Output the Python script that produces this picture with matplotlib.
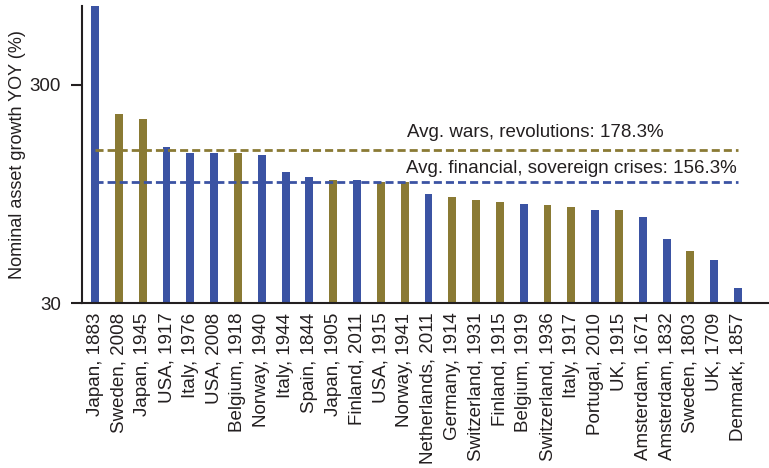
import numpy as np
import matplotlib
matplotlib.use("Agg")
from matplotlib import pyplot as plt
from matplotlib.ticker import FixedLocator, FixedFormatter, NullLocator

plt.rcParams['font.family'] = ['Liberation Sans', 'DejaVu Sans']

# episodes, sorted by growth
labels = ["Japan, 1883", "Sweden, 2008", "Japan, 1945", "USA, 1917", "Italy, 1976",
          "USA, 2008", "Belgium, 1918", "Norway, 1940", "Italy, 1944", "Spain, 1844",
          "Japan, 1905", "Finland, 2011", "USA, 1915", "Norway, 1941", "Netherlands, 2011",
          "Germany, 1914", "Switzerland, 1931", "Finland, 1915", "Belgium, 1919",
          "Switzerland, 1936", "Italy, 1917", "Portugal, 2010", "UK, 1915",
          "Amsterdam, 1671", "Amsterdam, 1832", "Sweden, 1803", "UK, 1709", "Denmark, 1857"]
growth = [800, 221, 210, 156, 146, 146, 146, 143, 120, 113, 110, 110, 108, 108, 95,
          92, 89, 87, 85, 84, 83, 80, 80, 74, 59, 52, 47, 35]
# 'w' = war / revolution, 'f' = financial / sovereign crisis
kind = ["f", "w", "w", "f", "f", "f", "w", "f", "f", "f", "w", "f", "w", "w", "f",
        "w", "w", "w", "f", "w", "w", "f", "w", "f", "f", "w", "f", "f"]

avg_wars_line = 151
avg_fin_line = 108
avg_wars_text = "Avg. wars, revolutions: 178.3%"
avg_fin_text = "Avg. financial, sovereign crises: 156.3%"

blue = "#3b53a3"
olive = "#8a7a34"
txt = "#231f20"
fs = 13.5

fig = plt.figure(figsize=(7.69, 4.68), dpi=100)
ax = fig.add_axes([82 / 769, 1 - 303 / 468, 1 - 82 / 769, (303 - 6) / 468])

x = np.arange(len(labels))
colors = [olive if k == "w" else blue for k in kind]
ax.bar(x, growth, width=0.33, color=colors, zorder=2)

ax.set_yscale("log")
ax.set_ylim(30, 690)
ax.set_xlim(-0.55, 28.3)

ax.plot([0, len(labels) - 1], [avg_wars_line] * 2, color=olive, lw=2,
        dashes=(2.9, 1.45), zorder=3)
ax.plot([0, len(labels) - 1], [avg_fin_line] * 2, color=blue, lw=2,
        dashes=(2.9, 1.45), zorder=3)
ax.text(13.1, 173, avg_wars_text, fontsize=fs, color=txt, va="baseline")
ax.text(13.05, 118.5, avg_fin_text, fontsize=fs, color=txt, va="baseline")

ax.yaxis.set_major_locator(FixedLocator([30, 300]))
ax.yaxis.set_major_formatter(FixedFormatter(["30", "300"]))
ax.yaxis.set_minor_locator(NullLocator())
ax.set_xticks(x)
ax.set_xticklabels(labels, rotation=90, fontsize=fs, color=txt)
ax.tick_params(axis="x", length=0, pad=7)
ax.tick_params(axis="y", length=8, width=1.5, pad=7, labelsize=fs,
               labelcolor=txt, color=txt)
ax.set_ylabel("Nominal asset growth YOY (%)", fontsize=13, color=txt, labelpad=3)

for s in ["top", "right"]:
    ax.spines[s].set_visible(False)
for s in ["left", "bottom"]:
    ax.spines[s].set_linewidth(1.5)
    ax.spines[s].set_color(txt)

fig.savefig("out.png", dpi=100)
